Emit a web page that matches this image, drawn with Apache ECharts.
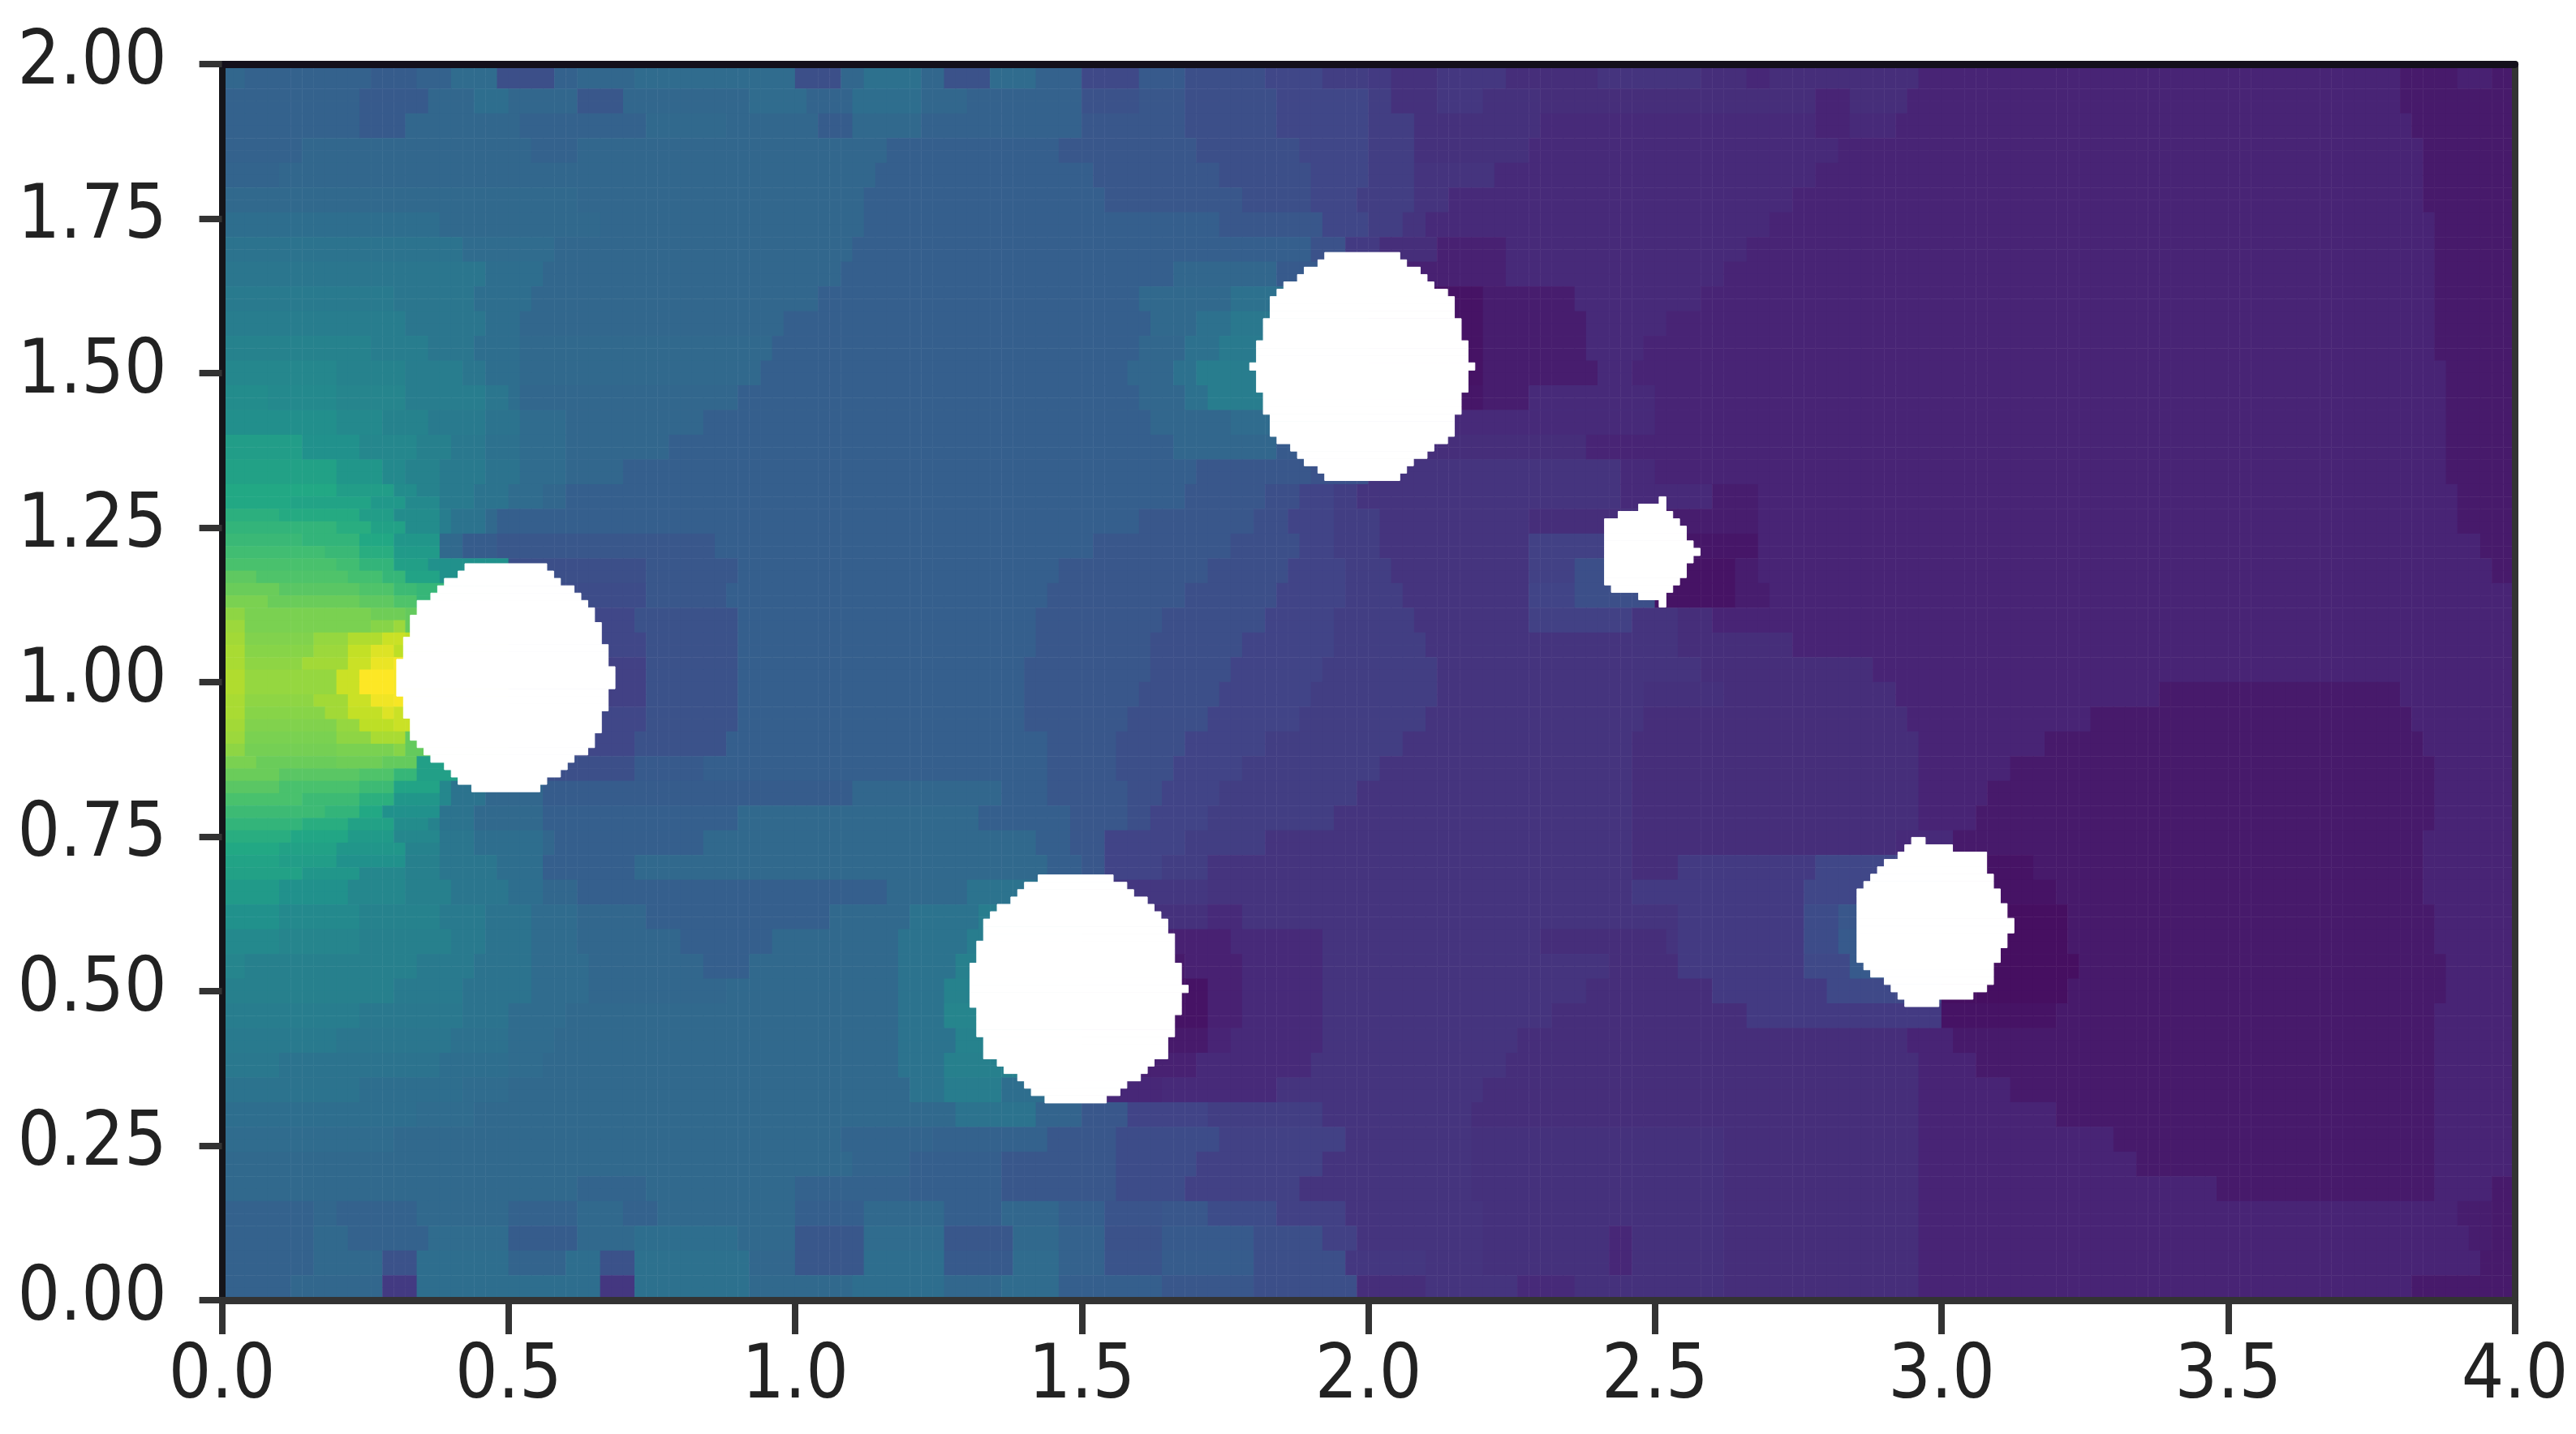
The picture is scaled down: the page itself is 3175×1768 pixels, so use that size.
<!DOCTYPE html>
<html><head><meta charset="utf-8">
<style>html,body{margin:0;padding:0;background:#fff}#c{width:3175px;height:1768px}</style>
<script src="https://cdn.jsdelivr.net/npm/echarts@6/dist/echarts.min.js"></script>
</head><body><div id="c"></div>
<script>
const xTicks=[0,0.5,1,1.5,2,2.5,3,3.5,4];
const yTicks=[0,0.25,0.5,0.75,1,1.25,1.5,1.75,2];
const viridis=['#440154','#482475','#414487','#355f8d','#2a788e','#21918c','#22a884','#44bf70','#7ad151','#bddf26','#fde725'];
// Field, top row first: value (0-100 of the colour scale), x where that value ends, ...
const fieldRuns=[
[33,.05,31,.26,29,.34,31,.40,35,.49,24,.58,31,.62,33,.72,35,1.0,24,1.08,33,1.13,37,1.22,33,1.27,25,1.34,35,1.42,31,1.5,22,1.6,28,1.69,24,1.82,21,1.92,18,2,17,2.04,14,2.12,16,2.24,13,2.4,15,2.59,13,2.67,11,2.7,13,2.97,10,3.8,7,3.91,9,3.97,7,4],
[31,.24,28,.36,33,.45,36,.5,33,.62,27,.7,33,.92,35,1.03,32,1.1,36,1.22,33,1.3,31,1.5,25,1.6,27,1.69,24,1.85,21,2,18,2.05,14,2.12,16,2.2,14,2.31,13,2.78,10,2.85,13,2.95,10,3.8,7,4],
[31,.25,28,.33,33,.53,31,.74,34,.88,33,1.05,29,1.1,34,1.23,31,1.5,27,1.68,24,1.85,21,2,18,2.09,14,2.31,12,2.78,10,2.85,12,2.92,10,3.82,7,4],
[31,.15,33,.55,31,.62,33,1.17,30,1.47,27,1.71,24,1.88,21,2,18,2.09,14,2.28,12,2.83,10,3.85,7,4],
[32,.1,33,1.15,30,1.52,27,1.75,24,1.9,21,2,18,2.08,15,2.23,12,2.78,10,3.85,7,4],
[34,.62,33,1.13,30,1.55,27,1.78,24,1.91,21,1.99,18,2.08,15,2.15,12,2.75,10,3.85,7,4],
[36,.38,34,.66,33,1.12,30,1.75,27,1.92,21,2,18,2.07,15,2.11,12,2.7,10,3.86,7,4],
[38,.42,35,.58,33,1.1,30,1.9,25,1.97,17,2.03,13,2.13,9,2.24,12,2.66,10,3.865,7,4],
[39,.46,36,.56,33,1.08,30,1.66,33,1.84,28,2,9,2.25,12,2.62,10,3.87,7,4],
[41,.3,39,.45,36,.55,33,1.05,30,1.6,34,1.76,37,2,5,2.2,8,2.36,12,2.58,10,3.87,7,4],
[42,.33,39,.47,36,.53,33,.99,30,1.62,34,1.7,37,1.76,40,2,5,2.2,8,2.38,12,2.53,10,3.87,7,4],
[44,.27,42,.36,39,.45,36,.53,34,.97,30,1.6,33,1.68,37,1.74,41,2,5,2.2,8,2.39,12,2.49,10,3.87,7,4],
[46,.2,44,.33,42,.42,39,.47,36,.53,34,.95,30,1.58,33,1.66,37,1.71,42,2,5,2.2,8,2.41,12,2.47,10,3.875,7,4],
[48,.08,47,.2,45,.33,42,.46,39,.5,36,.53,33,.9,30,1.6,33,1.68,37,1.73,42,2,6,2.2,8,2.28,12,2.51,10,3.88,7,4],
[49,.2,47,.29,44,.37,41,.46,38,.53,35,.6,33,.84,30,1.62,33,1.76,35,2,12,2.5,10,3.88,7,4],
[55,.15,50,.25,46,.35,43,.4,40,.46,37,.52,35,.6,33,.79,30,1.66,33,1.85,28,2,13,2.39,10,3.89,7,4],
[57,.2,52,.29,47,.33,44,.39,41,.46,38,.53,35,.6,33,.7,30,1.7,27,1.9,25,2,15,2.45,12,2.5,10,3.89,7,4],
[60,.2,55,.3,48,.34,44,.39,41,.45,38,.5,35,.56,33,.6,30,1.69,27,1.83,24,1.89,20,1.94,18,1.99,15,2.45,12,2.6,8,2.68,10,3.9,7,4],
[65,.18,60,.3,52,.34,46,.36,42,.41,38,.46,34,.49,30,1.6,27,1.8,24,1.87,20,1.94,18,2.02,15,2.28,13,2.5,8,2.68,10,3.9,7,4],
[70,.2,65,.28,58,.33,48,.36,40,.39,34,.42,29,.49,27,.86,30,1.52,27,1.77,24,1.88,20,1.95,18,2.03,15,2.28,19,2.5,6,2.68,10,3.94,7,4],
[72,.2,68,.28,60,.34,50,.5,24,.74,27,.9,30,1.47,27,1.72,24,1.86,20,1.96,18,2.05,15,2.28,19,2.37,24,2.5,5,2.65,8,2.68,10,3.96,7,4],
[75,.2,72,.28,66,.5,23,.745,27,.89,30,1.45,27,1.68,24,1.84,20,1.96,18,2.07,15,2.28,20,2.37,24,2.5,5,2.64,8,2.7,10,3.995,7,4],
[80,.12,78,.25,76,.5,21,.72,25,.9,30,1.43,27,1.65,24,1.82,20,1.95,18,2.09,15,2.28,19,2.46,15,2.55,13,2.6,10,4],
[86,.06,82,.2,86,.24,90,.5,21,.74,25,.9,30,1.42,27,1.63,24,1.79,20,1.94,18,2.11,15,2.55,13,2.75,10,4],
[87,.05,83,.19,88,.24,93,.27,99,.5,19,.74,25,.9,30,1.41,27,1.62,24,1.77,20,1.92,18,2.13,15,2.58,13,2.88,10,4],
[87,.05,83,.19,88,.24,93,.27,99,.5,19,.74,25,.9,30,1.41,27,1.6,24,1.74,20,1.9,18,2.13,15,2.48,14,2.62,13,2.92,10,3.38,7,3.8,10,4],
[86,.06,82,.2,87,.24,92,.5,21,.74,25,.9,30,1.41,27,1.58,24,1.72,20,1.88,18,2.1,15,2.48,13,2.95,10,3.26,7,3.82,10,4],
[80,.12,78,.25,76,.5,21,.72,25,.88,30,1.44,27,1.565,24,1.68,20,1.83,18,2.07,15,2.47,13,2.96,10,3.18,7,3.85,10,4],
[75,.2,72,.28,66,.34,56,.5,24,.72,28,.85,30,1.44,27,1.565,24,1.655,20,1.78,18,2.03,15,2.47,13,2.96,10,3.12,7,3.86,10,4],
[70,.2,64,.3,55,.36,46,.4,38,.47,33,.56,29,1.1,33,1.36,30,1.44,27,1.575,24,1.635,20,1.745,18,1.99,15,2.47,13,2.96,10,3.09,7,3.87,10,4],
[65,.2,60,.29,52,.34,44,.38,38,.45,34,.56,30,.9,34,1.32,30,1.49,27,1.575,24,1.615,20,1.715,18,1.95,15,2.47,13,2.96,10,3.06,7,3.86,10,4],
[60,.2,56,.28,50,.32,44,.38,39,.45,36,.56,33,.58,30,.84,34,1.42,30,1.48,27,1.55,20,1.685,18,1.83,15,2.47,13,2.93,12,3.02,7,3.85,10,4],
[57,.15,52,.25,46,.32,43,.39,39,.48,36,.56,30,.72,34,1.45,30,1.5,27,1.55,20,1.635,18,1.72,15,2.47,13,2.55,17,2.78,21,3,5,3.16,7,3.85,10,4],
[54,.1,50,.22,46,.33,43,.41,39,.5,36,.57,33,.62,30,1.17,34,1.3,38,1.5,16,1.72,15,2.47,17,2.76,21,3,5,3.2,7,3.85,10,4],
[50,.1,47,.25,44,.38,41,.46,38,.55,35,.62,33,.74,30,1.06,34,1.2,38,1.33,42,1.5,14,1.72,12,1.79,15,2.54,17,2.76,23,2.82,27,3,4,3.22,7,3.86,10,4],
[47,.1,45,.25,43,.4,41,.46,38,.55,35,.62,33,.8,30,.97,34,1.18,38,1.31,42,1.5,9,1.77,12,1.92,15,2.3,13,2.52,15,2.55,17,2.76,23,2.82,28,3,4,3.23,7,3.87,10,4],
[45,.05,43,.35,41,.45,38,.55,35,.64,33,.84,30,.93,34,1.18,38,1.28,43,1.5,7,1.69,9,1.78,12,1.93,15,2.42,13,2.55,17,2.76,22,2.84,28,3,4,3.24,7,3.88,10,4],
[43,.3,41,.43,38,.55,35,.64,33,.88,34,1.18,38,1.26,44,1.5,5,1.72,9,1.78,12,1.93,15,2.38,13,2.6,17,2.8,22,3,4,3.23,7,3.88,10,4],
[42,.25,40,.42,38,.5,35,.6,34,1.19,38,1.27,45,1.5,5,1.72,9,1.78,12,1.93,15,2.33,13,2.66,17,3,5,3.2,7,3.87,10,4],
[41,.2,39,.4,37,.5,35,.58,34,1.18,38,1.28,44,1.5,7,1.72,10,1.77,12,1.92,15,2.26,13,2.94,10,3.02,7,3.87,10,4],
[40,.1,38,.38,36,.5,35,.56,34,1.18,38,1.27,43,1.5,9,1.7,12,1.9,15,2.24,13,2.97,10,3.06,7,3.87,10,4],
[38,.25,36,.42,35,.5,34,1.2,38,1.26,42,1.37,36,1.5,11,1.65,12,1.85,15,2.2,13,2.97,10,3.12,7,3.87,10,4],
[36,.35,35,.45,34,1.28,38,1.42,32,1.5,27,1.58,20,1.72,18,1.92,15,2.19,13,2.97,10,3.2,7,3.87,10,4],
[35,.3,34,1.08,32,1.25,31,1.44,27,1.57,23,1.75,19,1.97,15,2.18,14,2.62,13,2.97,10,3.3,7,3.87,10,4],
[34,1.1,32,1.2,30,1.36,27,1.56,23,1.71,19,1.92,15,2.18,14,2.62,13,2.97,10,3.35,7,3.86,10,4],
[34,.62,32,.74,34,1.0,31,1.2,30,1.36,27,1.56,23,1.69,19,1.88,15,2.19,14,2.62,13,2.97,10,3.48,7,3.86,10,3.96,7,4],
[31,.16,33,.2,31,.34,34,.5,31,.62,34,.7,31,.76,34,1.0,30,1.12,34,1.27,30,1.37,33,1.47,30,1.55,26,1.64,27,1.72,23,1.85,19,1.97,15,2.2,14,2.62,13,2.97,10,3.9,8,3.96,7,4],
[31,.16,34,.22,31,.36,35,.5,29,.62,34,.72,36,.9,34,1,27,1.12,35,1.26,27,1.38,34,1.46,31,1.55,25,1.65,28,1.8,24,1.93,19,1.99,15,2.2,14,2.42,11,2.46,14,2.62,13,2.97,10,3.92,8,3.97,7,4],
[31,.16,34,.28,25,.34,36,.5,32,.6,36,.66,25,.72,37,.92,33,1,27,1.12,36,1.26,28,1.38,35,1.46,31,1.55,26,1.65,29,1.8,24,1.97,16,2.1,15,2.2,14,2.42,11,2.46,14,2.62,13,2.97,10,3.95,7,4],
[31,.12,33,.28,17,.34,36,.66,16,.72,37,.92,34,1.1,36,1.26,33,1.36,35,1.46,30,1.65,27,1.8,24,1.99,13,2.1,15,2.27,12,2.36,14,2.62,13,2.97,10,3.82,7,4]
];
// Finer rows beside the inlet, y from 1.29 down to 0.71, same run format
const inletRuns=[
[60,.12,58,.26,53,.32,47,.38],[63,.1,61,.24,55,.31,48,.38],[65,.2,62,.27,57,.32,48,.38],[67,.14,65,.25,60,.31,52,.38],
[69,.18,67,.24,62,.3,54,.38],[71,.2,69,.25,65,.3,56,.36],[75,.06,72,.22,70,.28,66,.33,58,.38],[77,.1,74,.25,72,.3,68,.34],
[80,.08,77,.24,75,.3,72,.34],[83,.05,80,.26,78,.33],[85,.05,80,.26,82,.3,85,.33],[86,.05,81,.17,84,.23,88,.28,92,.32],
[87,.05,82,.16,85,.22,91,.27,95,.31],[87,.05,83,.15,86,.22,92,.26,97,.31],[88,.04,84,.2,92,.25,100,.31],
[88,.04,84,.2,92,.25,100,.31],[87,.05,83,.16,86,.22,92,.26,98,.31],[87,.05,82,.18,86,.23,91,.28,95,.31],[86,.05,81,.2,84,.25,90,.3],
[85,.05,80,.2,83,.27,87,.32],[83,.05,79,.2,80,.3,82,.33],[80,.06,77,.2,78,.28,76,.34],[77,.1,74,.25,72,.3,66,.35],
[74,.1,71,.24,68,.3,58,.38],[71,.15,68,.24,63,.3,52,.38],[68,.18,65,.24,60,.29,50,.38],[65,.14,62,.23,57,.3,48,.36],
[62,.12,59,.22,54,.31,46,.38],[60,.1,57,.2,52,.32,44,.38],[58,.1,55,.2,50,.32,43,.38]
];
const INLET_FIRST_ROW=35;
// White voids: top raster row of each void, then [left, right] raster columns for each row going down
const voidA={top:100.1,spans:[[35,47],[34,48],[32,49],[31,51],[30,52],[28,53],[28,54],[27,54],[27,55],[27,55],[26,55],[26,56],[26,56],[25,56],[25,57],[25,57],[25,57],[25,56],[26,56],[26,56],[26,55],[27,55],[27,55],[27,54],[28,54],[29,53],[30,51],[32,50],[33,49],[34,47],[36,46]]};
const voidB={top:57.8,spans:[[119,130],[117,132],[116,133],[115,135],[113,136],[112,137],[111,138],[111,138],[111,139],[110,139],[110,139],[110,139],[109,140],[109,140],[109,140],[109,141],[109,140],[109,140],[110,140],[110,139],[110,139],[110,139],[111,138],[111,138],[111,138],[113,136],[114,135],[116,134],[117,132],[118,131],[120,129]]};
const voidC={top:142.4,spans:[[161,172],[160,173],[158,175],[157,176],[155,177],[154,179],[153,180],[153,180],[153,180],[152,181],[152,181],[152,181],[151,182],[151,182],[151,182],[150,183],[151,182],[151,182],[151,182],[152,181],[152,181],[152,181],[153,180],[153,180],[153,180],[154,179],[156,177],[157,176],[158,174],[160,173],[161,172]]};
const voidD={top:109.2,spans:[[210,211],[207,211],[204,212],[202,213],[202,214],[202,214],[202,215],[202,216],[202,215],[202,214],[202,214],[202,213],[203,212],[207,211],[210,211]]};
const voidE={top:62.9,spans:[[247,249],[246,253],[245,258],[243,258],[242,258],[241,259],[240,259],[239,260],[239,260],[239,261],[239,261],[239,262],[239,262],[239,261],[239,261],[239,260],[239,260],[240,259],[241,259],[243,259],[244,258],[245,256],[246,251]]};

const NX=200,NY=fieldRuns.length*2,DX=4/NX,DY=2/NY,RASTER=84;
const xCats=[],yCats=[],cells=[];
for(let i=0;i<NX;i++)xCats.push(((i+.5)*DX).toFixed(2));
for(let j=0;j<NY;j++)yCats.push(((j+.5)*DY).toFixed(2));
function lookup(runs,x){
  for(let k=0;k<runs.length;k+=2)if(x<runs[k+1])return runs[k];
  return null;
}
for(let r=0;r<NY;r++){
  const coarse=fieldRuns[Math.floor(r/2)],fine=inletRuns[r-INLET_FIRST_ROW];
  for(let i=0;i<NX;i++){
    const cx=(i+.5)*DX;
    let v=fine?lookup(fine,cx):null;
    if(v===null)v=lookup(coarse,cx);
    cells.push([i,NY-1-r,v]);
  }
}
const voidRows=[];
[voidA,voidB,voidC,voidD,voidE].forEach(h=>h.spans.forEach((s,k)=>{
  voidRows.push([(s[0]+.6)/RASTER,(h.top-k-1)/RASTER,(s[1]+.6)/RASTER,(h.top-k)/RASTER]);
}));
const FONT='"DejaVu Sans Condensed","DejaVu Sans",sans-serif';
const chart=echarts.init(document.getElementById('c'),null,{renderer:'canvas',width:3175,height:1768});
chart.setOption({
  animation:false,
  backgroundColor:'#fff',
  grid:{left:273.6,top:79,width:2826,height:1524,containLabel:false},
  visualMap:{show:false,min:0,max:100,seriesIndex:0,dimension:2,inRange:{color:viridis}},
  xAxis:[
    {type:'category',data:xCats,position:'top',z:10,boundaryGap:true,
     axisLine:{show:true,onZero:false,lineStyle:{color:'#14101c',width:9}},axisTick:{show:false},axisLabel:{show:false},splitLine:{show:false}},
    {type:'value',min:0,max:4,interval:.5,position:'bottom',z:10,
     axisLine:{show:true,onZero:false,lineStyle:{color:'#333',width:9}},
     axisTick:{show:true,length:42,lineStyle:{color:'#333',width:8}},
     splitLine:{show:false},
     axisLabel:{show:true,margin:50,color:'#222',fontFamily:FONT,fontSize:92,hideOverlap:false,showMinLabel:true,showMaxLabel:true,
       formatter:v=>xTicks.includes(v)?v.toFixed(1):''}}
  ],
  yAxis:[
    {type:'category',data:yCats,position:'right',z:10,boundaryGap:true,
     axisLine:{show:true,onZero:false,lineStyle:{color:'#333',width:8}},axisTick:{show:false},axisLabel:{show:false},splitLine:{show:false}},
    {type:'value',min:0,max:2,interval:.25,position:'left',z:10,
     axisLine:{show:true,onZero:false,lineStyle:{color:'#15151a',width:8}},
     axisTick:{show:true,length:28,lineStyle:{color:'#333',width:8}},
     splitLine:{show:false},
     axisLabel:{show:true,margin:68,color:'#222',fontFamily:FONT,fontSize:92,hideOverlap:false,showMinLabel:true,showMaxLabel:true,
       formatter:v=>yTicks.includes(v)?v.toFixed(2):''}}
  ],
  series:[
    {type:'heatmap',xAxisIndex:0,yAxisIndex:0,data:cells,progressive:0,silent:true,emphasis:{disabled:true},z:2},
    {type:'custom',xAxisIndex:1,yAxisIndex:1,data:voidRows,silent:true,z:3,encode:{x:[0,2],y:[1,3]},clip:true,
     renderItem:(p,api)=>{
       const a=api.coord([api.value(0),api.value(3)]),b=api.coord([api.value(2),api.value(1)]);
       return {type:'rect',shape:{x:a[0],y:a[1],width:b[0]-a[0],height:b[1]-a[1]},style:{fill:'#fff',stroke:'#fff',lineWidth:1}};
     }}
  ]
});
</script></body></html>
